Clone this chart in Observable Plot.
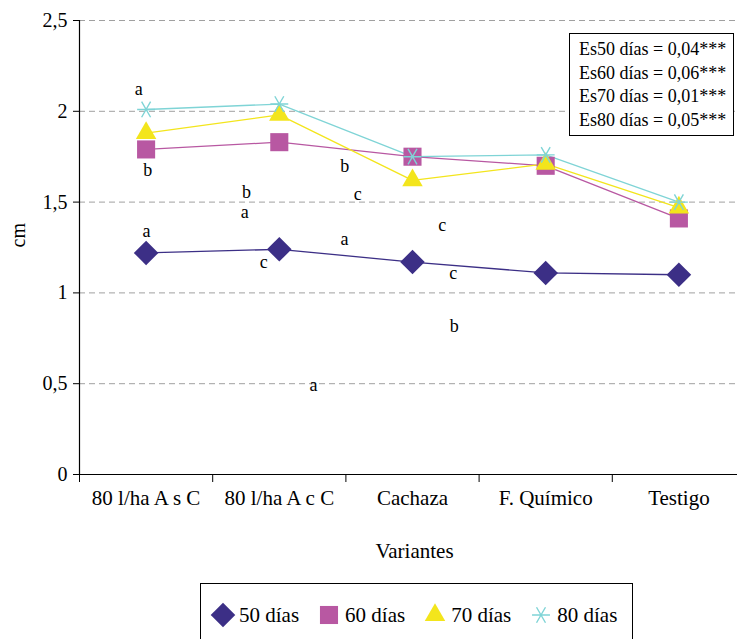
<!DOCTYPE html>
<html><head><meta charset="utf-8">
<script src="https://cdn.jsdelivr.net/npm/d3@7"></script>
<script src="https://cdn.jsdelivr.net/npm/@observablehq/plot@0.6"></script>
<style>
body{margin:0;background:#fff;font-family:"Liberation Serif","Times New Roman",serif;}
#wrap{position:relative;width:737px;height:639px;overflow:hidden;background:#fff;}
#stats{position:absolute;left:569px;top:33px;width:165px;height:103px;border:1px solid #000;background:#fff;box-sizing:border-box;padding:4px 0 0 9px;font-size:18px;line-height:23.5px;color:#000;white-space:nowrap;}
#legend{position:absolute;left:200px;top:583px;width:433px;height:70px;border:1px solid #000;box-sizing:border-box;background:#fff;display:flex;align-items:flex-start;padding:17px 0 0 8px;font-size:21px;color:#000;white-space:nowrap;}
.item{display:flex;align-items:center;margin-right:16px;}
.item svg{margin-right:2px;}
</style>
</head><body>
<div id="wrap"><div id="chart"></div><div id="stats"></div><div id="legend"></div></div>
<script>
const categories = ["80 l/ha A s C","80 l/ha A c C","Cachaza","F. Químico","Testigo"];
const series = ["50 días","60 días","70 días","80 días"];
const v50 = [1.22,1.24,1.17,1.11,1.10];
const v60 = [1.79,1.83,1.75,1.70,1.41];
const v70 = [1.88,1.98,1.62,1.71,1.47];
const v80 = [2.01,2.04,1.75,1.76,1.50];
const yTicks = [0,0.5,1,1.5,2,2.5];
const letters = ["a","b","b","a","a","c","b","c","a","c","c","b","a"];
const letterX = [-0.055,0.013,0.754,0.741,0.003,0.884,1.492,1.589,1.489,2.223,2.306,2.313,1.257];
const letterY = [2.124,1.678,1.555,1.444,1.340,1.169,1.696,1.546,1.293,1.371,1.108,0.817,0.490];
const statsLines = ["Es50 días = 0,04***","Es60 días = 0,06***","Es70 días = 0,01***","Es80 días = 0,05***"];

const colors = ["#3c2f86","#b858a2","#f3e51c","#7fd4d6"];
const symbols = ["square","square","triangle","asterisk"];
const rotations = [45,0,0,90];
const radii = [9.8,10.2,7.6,8.5];
const values = [v50,v60,v70,v80];

const rows = [];
series.forEach((s,k)=>values[k].forEach((v,i)=>rows.push({s,i,v})));
const letterRows = letters.map((t,j)=>({t,x:letterX[j],y:letterY[j]}));
const centers = categories.map((c,i)=>i);
const bounds = categories.map((c,i)=>i-0.5);

const dotMarks = series.map((s,k)=>Plot.dot(rows.filter(d=>d.s===s),{
  x:"i", y:"v", symbol:()=>symbols[k], r:radii[k], rotate:rotations[k],
  fill: symbols[k]==="asterisk" ? "none" : colors[k],
  stroke: symbols[k]==="asterisk" ? colors[k] : "none",
  strokeWidth:1.4
}));

const chart = Plot.plot({
  width:737, height:580,
  marginLeft:79, marginRight:0, marginTop:20, marginBottom:106,
  x:{domain:[-0.5,4.44], axis:null},
  y:{domain:[0,2.5], axis:null},
  symbol:{type:"identity"},
  color:{domain:series, range:colors},
  style:{fontFamily:"'Liberation Serif','Times New Roman',serif", fontSize:"20px", background:"#fff", color:"#000"},
  marks:[
    Plot.gridY(yTicks.filter(d=>d>0),{stroke:"#a0a0a0", strokeOpacity:1, strokeDasharray:"6,4"}),
    Plot.axisY(yTicks,{tickSize:6, tickPadding:6, tickFormat:d=>String(d).replace(".",","), label:null, fontSize:20}),
    Plot.text(["cm"],{frameAnchor:"left", dx:-61, rotate:-90, fontSize:20}),
    Plot.ruleX([-0.5],{stroke:"#000", strokeWidth:1.2}),
    Plot.ruleY([0],{stroke:"#000", strokeWidth:1.2}),
    Plot.axisX(bounds,{tickSize:8, tickFormat:()=>"", label:null}),
    Plot.axisX(centers,{tickSize:0, tickPadding:16, tickFormat:i=>categories[i], label:null, fontSize:21}),
    Plot.text(["Variantes"],{frameAnchor:"bottom", dy:83, dx:6, fontSize:21}),
    Plot.line(rows,{x:"i", y:"v", z:"s", stroke:"s", strokeWidth:1.3}),
    ...dotMarks,
    Plot.text(letterRows,{x:"x", y:"y", text:"t", fontSize:18, fill:"#000"})
  ]
});
document.getElementById("chart").appendChild(chart);

const st = document.getElementById("stats");
statsLines.forEach(t=>{const d=document.createElement("div");d.textContent=t;st.appendChild(d);});

const lg = document.getElementById("legend");
series.forEach((s,k)=>{
  const it = document.createElement("div"); it.className="item";
  const sym = {square:d3.symbolSquare, triangle:d3.symbolTriangle, asterisk:d3.symbolAsterisk}[symbols[k]];
  const size = Math.PI*radii[k]*radii[k];
  const svg = d3.create("svg").attr("width",28).attr("height",28);
  svg.append("path").attr("d",d3.symbol(sym,size)())
    .attr("transform",`translate(14,14) rotate(${rotations[k]})`)
    .attr("fill", symbols[k]==="asterisk"?"none":colors[k])
    .attr("stroke", symbols[k]==="asterisk"?colors[k]:"none")
    .attr("stroke-width",1.4);
  it.appendChild(svg.node());
  const sp = document.createElement("span"); sp.textContent=s; it.appendChild(sp);
  lg.appendChild(it);
});
</script>
</body></html>
